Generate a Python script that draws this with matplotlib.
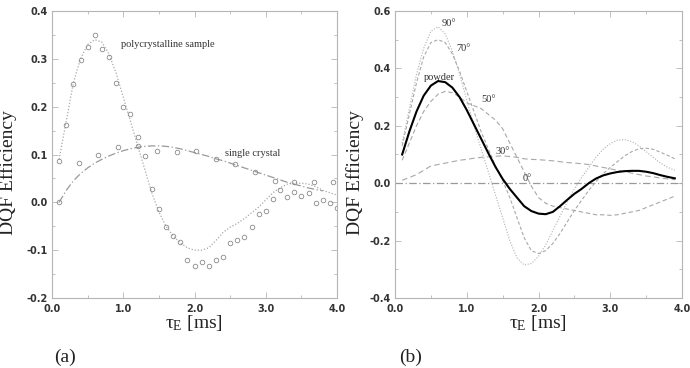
import numpy as np
import matplotlib
matplotlib.use("Agg")
import matplotlib.pyplot as plt
from matplotlib.ticker import MultipleLocator, FormatStrFormatter

# ---------------- data: panel (a) ----------------
poly_t = [0.1, 0.2, 0.3, 0.4, 0.5, 0.6, 0.7, 0.8, 0.9, 1.0, 1.1, 1.2, 1.3, 1.4, 1.5, 1.6, 1.7, 1.8, 1.9, 2.0,
          2.1, 2.2, 2.3, 2.4, 2.5, 2.6, 2.7, 2.8, 2.9, 3.0, 3.1, 3.2, 3.3, 3.4, 3.5, 3.6, 3.7, 3.8, 3.9, 4.0]
poly_meas = [0.086, 0.161, 0.247, 0.298, 0.325, 0.350, 0.321, 0.304, 0.250, 0.199, 0.185, 0.137, 0.096, 0.027,
             -0.013, -0.052, -0.070, -0.083, -0.120, -0.134, -0.125, -0.134, -0.120, -0.114, -0.085, -0.078,
             -0.072, -0.052, -0.025, -0.019, 0.007, 0.025, 0.011, 0.022, 0.014, 0.020, -0.001, 0.004, -0.001, -0.011]
poly_fit = [0.09, 0.17, 0.25, 0.30, 0.33, 0.34, 0.335, 0.31, 0.27, 0.22, 0.17, 0.12, 0.07, 0.02, -0.02, -0.05,
            -0.07, -0.085, -0.095, -0.10, -0.10, -0.095, -0.08, -0.063, -0.052, -0.044, -0.034, -0.022, -0.01,
            0.005, 0.02, 0.03, 0.038, 0.04, 0.04, 0.038, 0.033, 0.025, 0.02, 0.015]

single_t = [0.1, 0.375, 0.65, 0.925, 1.2, 1.475, 1.75, 2.025, 2.3, 2.575, 2.85, 3.125, 3.4, 3.675, 3.95]
single_meas = [0.0, 0.082, 0.099, 0.116, 0.118, 0.108, 0.105, 0.107, 0.091, 0.080, 0.064, 0.044, 0.043, 0.042, 0.042]
single_fit_t = [0.1, 0.2, 0.3, 0.4, 0.5, 0.6, 0.7, 0.8, 0.9, 1.0, 1.1, 1.2, 1.3, 1.4, 1.5, 1.6, 1.7, 1.8, 1.9,
                2.0, 2.1, 2.2, 2.3, 2.4, 2.5, 2.6, 2.7, 2.8, 2.9, 3.0, 3.1, 3.2, 3.3, 3.4, 3.5, 3.6, 3.7, 3.8]
single_fit = [0.0, 0.025, 0.045, 0.06, 0.072, 0.082, 0.09, 0.097, 0.103, 0.108, 0.112, 0.115, 0.117, 0.118,
              0.118, 0.117, 0.115, 0.112, 0.108, 0.104, 0.10, 0.096, 0.091, 0.087, 0.082, 0.077, 0.072, 0.067,
              0.062, 0.057, 0.052, 0.047, 0.042, 0.038, 0.034, 0.030, 0.027, 0.024]

# ---------------- data: panel (b) ----------------
sim_t = [0.1, 0.2, 0.3, 0.4, 0.5, 0.6, 0.7, 0.8, 0.9, 1.0, 1.1, 1.2, 1.3, 1.4, 1.5, 1.6, 1.7, 1.8, 1.9, 2.0,
         2.1, 2.2, 2.3, 2.4, 2.5, 2.6, 2.7, 2.8, 2.9, 3.0, 3.1, 3.2, 3.3, 3.4, 3.5, 3.6, 3.7, 3.8, 3.9]
powder = [0.10, 0.18, 0.25, 0.305, 0.34, 0.356, 0.352, 0.333, 0.30, 0.255, 0.205, 0.155, 0.105, 0.057, 0.015,
          -0.02, -0.05, -0.08, -0.097, -0.106, -0.108, -0.10, -0.08, -0.058, -0.037, -0.02, 0.0, 0.016, 0.027,
          0.034, 0.039, 0.042, 0.043, 0.043, 0.04, 0.035, 0.028, 0.022, 0.017]
deg90 = [0.14, 0.26, 0.38, 0.47, 0.53, 0.545, 0.52, 0.46, 0.38, 0.29, 0.20, 0.12, 0.04, -0.04, -0.12, -0.20,
         -0.26, -0.285, -0.28, -0.255, -0.215, -0.165, -0.115, -0.065, -0.02, 0.02, 0.055, 0.09, 0.118, 0.138,
         0.15, 0.152, 0.145, 0.13, 0.11, 0.09, 0.07, 0.055, 0.045]
deg70 = [0.13, 0.24, 0.35, 0.44, 0.49, 0.50, 0.49, 0.45, 0.39, 0.32, 0.25, 0.18, 0.12, 0.06, 0.01, -0.05,
         -0.12, -0.19, -0.235, -0.245, -0.235, -0.21, -0.175, -0.135, -0.095, -0.06, -0.025, 0.005, 0.033, 0.055,
         0.075, 0.095, 0.11, 0.12, 0.122, 0.118, 0.108, 0.097, 0.085]
deg50 = [0.08, 0.14, 0.20, 0.25, 0.285, 0.31, 0.32, 0.315, 0.30, 0.28, 0.27, 0.26, 0.24, 0.22, 0.19, 0.14,
         0.09, 0.04, -0.01, -0.05, -0.07, -0.08, -0.085, -0.09, -0.095, -0.10, -0.105, -0.11, -0.11, -0.112,
         -0.11, -0.105, -0.10, -0.095, -0.085, -0.075, -0.065, -0.055, -0.045]
deg30 = [0.01, 0.02, 0.03, 0.045, 0.06, 0.065, 0.07, 0.075, 0.08, 0.083, 0.087, 0.09, 0.092, 0.094, 0.095,
         0.093, 0.09, 0.085, 0.083, 0.082, 0.08, 0.078, 0.075, 0.072, 0.07, 0.068, 0.065, 0.06, 0.055, 0.05,
         0.045, 0.04, 0.035, 0.03, 0.025, 0.022, 0.018, 0.015, 0.012]
deg0_t = [0.0, 4.0]
deg0 = [0.0, 0.0]

x_ticks = [0.0, 1.0, 2.0, 3.0, 4.0]
ya_ticks = [-0.2, -0.1, 0.0, 0.1, 0.2, 0.3, 0.4]
yb_ticks = [-0.4, -0.2, 0.0, 0.2, 0.4, 0.6]

# ---------------- figure ----------------
fig = plt.figure(figsize=(6.9, 3.68), dpi=100)
W, H = 690.0, 368.0
axa = fig.add_axes([52 / W, 1 - 298 / H, (337 - 52) / W, (298 - 11) / H])
axb = fig.add_axes([395 / W, 1 - 298 / H, (682 - 395) / W, (298 - 11) / H])

serif = ["Liberation Serif", "DejaVu Serif"]
spine_c = "#b5b5b5"

def style(ax, yt, ymin, ymax, yminor):
    ax.set_xlim(0, 4)
    ax.set_ylim(ymin, ymax)
    ax.set_xticks(x_ticks)
    ax.set_yticks(yt)
    ax.xaxis.set_minor_locator(MultipleLocator(0.5))
    ax.yaxis.set_minor_locator(MultipleLocator(yminor))
    ax.xaxis.set_major_formatter(FormatStrFormatter("%.1f"))
    ax.yaxis.set_major_formatter(FormatStrFormatter("%.1f"))
    ax.tick_params(which="both", direction="in", top=True, right=True, color=spine_c, width=0.6)
    ax.tick_params(which="major", length=4)
    ax.tick_params(axis="x", which="major", pad=4)
    ax.tick_params(axis="y", which="major", pad=3)
    ax.tick_params(which="minor", length=2)
    for s in ax.spines.values():
        s.set_color(spine_c)
        s.set_linewidth(0.8)
    for lab in ax.get_xticklabels() + ax.get_yticklabels():
        lab.set_fontfamily("DejaVu Sans")
        lab.set_fontweight("bold")
        lab.set_fontsize(7)
        lab.set_color("#333333")

# panel (a)
axa.plot(poly_t, poly_fit, linestyle=(0, (1, 1.5)), color="#a8a8a8", lw=0.9)
axa.plot(single_fit_t, single_fit, linestyle=(0, (6, 2, 1, 2)), color="#9a9a9a", lw=0.9)
axa.plot(poly_t, poly_meas, linestyle="none", marker="o", ms=3.3, mfc="none", mec="#8a8a8a", mew=0.6)
axa.plot(single_t, single_meas, linestyle="none", marker="o", ms=3.3, mfc="none", mec="#8a8a8a", mew=0.6)
style(axa, ya_ticks, -0.2, 0.4, 0.05)
axa.text(1.63, 0.33, "polycrystalline sample", family=serif, fontsize=7.5, color="#333333", ha="center", va="center")
axa.text(2.82, 0.103, "single crystal", family=serif, fontsize=7.5, color="#333333", ha="center", va="center")

# panel (b)
axb.plot(deg0_t, deg0, linestyle=(0, (6, 2, 1, 2)), color="#9a9a9a", lw=0.9)
axb.plot(sim_t, deg30, linestyle=(0, (5, 3)), color="#a8a8a8", lw=0.8)
axb.plot(sim_t, deg50, linestyle=(0, (4, 2.5)), color="#a8a8a8", lw=0.8)
axb.plot(sim_t, deg70, linestyle=(0, (3, 2)), color="#a8a8a8", lw=0.8)
axb.plot(sim_t, deg90, linestyle=(0, (1, 1.5)), color="#b0b0b0", lw=0.8)
axb.plot(sim_t, powder, color="black", lw=1.5)
style(axb, yb_ticks, -0.4, 0.6, 0.1)
for txt, x, y in [("90°", 0.75, 0.555), ("70°", 0.95, 0.47), ("powder", 0.62, 0.37),
                  ("50°", 1.3, 0.293), ("30°", 1.5, 0.11), ("0°", 1.85, 0.016)]:
    axb.text(x, y, txt, family=serif, fontsize=7.5, color="#333333", ha="center", va="center")

# axis labels
for cx, cy in [(8, 173), (355, 173)]:
    fig.text(cx / W, 1 - cy / H, "DQF Efficiency", family=serif, fontsize=14, rotation=90,
             ha="center", va="center", color="#222222")
for cx in [194, 538]:
    fig.text(cx / W, 1 - 323 / H, r"$\mathregular{\tau_{E}}$ [ms]", family=serif, fontsize=14,
             ha="center", va="center", color="#222222")
fig.text(65 / W, 1 - 357 / H, "(a)", family=serif, fontsize=14, ha="center", va="center", color="#222222")
fig.text(411 / W, 1 - 357 / H, "(b)", family=serif, fontsize=14, ha="center", va="center", color="#222222")

fig.savefig("out.png", dpi=100)
